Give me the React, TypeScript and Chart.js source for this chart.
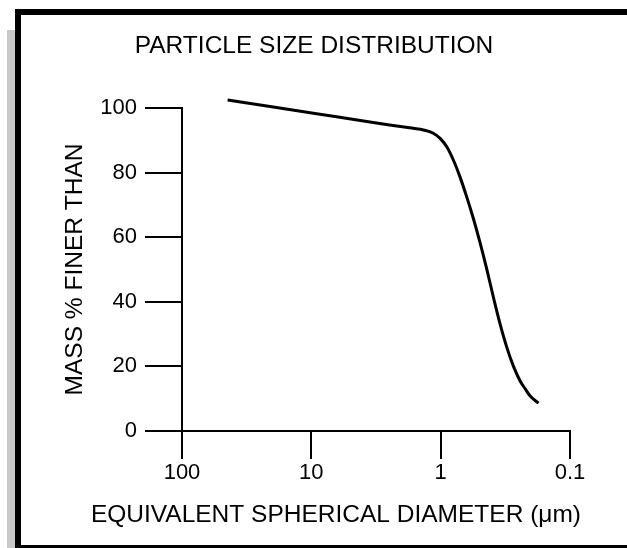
import React, { useEffect, useRef } from 'react';
import { Chart, registerables } from 'chart.js';

Chart.register(...registerables);

// ---- data ----
const chartTitle = 'PARTICLE SIZE DISTRIBUTION';
const xAxisTitle = 'EQUIVALENT SPHERICAL DIAMETER (μm)';
const yAxisTitle = 'MASS % FINER THAN';
const xTickValues = [100, 10, 1, 0.1];
const xTickLabels = ['100', '10', '1', '0.1'];
const yTickValues = [0, 20, 40, 60, 80, 100];
const diameters = [
  44.4, 22.1, 9.64, 3.73, 1.63, 1.36, 1.14, 1.01, 0.897, 0.798, 0.708, 0.628, 0.558, 0.496,
  0.44, 0.391, 0.347, 0.308, 0.274, 0.243, 0.2225, 0.204, 0.175,
];
const massFiner = [
  102.5, 100.6, 98.4, 95.8, 93.7, 93.2, 92.2, 90.6, 88.0, 83.9, 78.6, 72.4, 65.7, 58.3,
  50.1, 41.4, 33.1, 25.9, 20.1, 15.5, 13.1, 10.9, 8.6,
];

const FONT = "'Liberation Sans', Arial, Helvetica, sans-serif";
const TITLE_FS = 24.5;
const TICK_FS = 22;

export default function App() {
  const ref = useRef<HTMLCanvasElement | null>(null);

  useEffect(() => {
    if (!ref.current) return;
    const chart = new Chart(ref.current, {
      type: 'line',
      data: {
        datasets: [
          {
            data: diameters.map((d, i) => ({ x: d, y: massFiner[i] })),
            borderColor: '#000',
            borderWidth: 3,
            pointRadius: 0,
            cubicInterpolationMode: 'monotone',
            fill: false,
            clip: false as any,
          },
        ],
      },
      options: {
        responsive: false,
        animation: false,
        events: [],
        layout: { padding: { left: 47, right: 46, top: 0, bottom: 0 } },
        plugins: {
          legend: { display: false },
          tooltip: { enabled: false },
          title: {
            display: true,
            text: chartTitle,
            position: 'top',
            align: 'center',
            color: '#000',
            font: { family: FONT, size: TITLE_FS, weight: 'normal', lineHeight: 1.2 },
            padding: { top: 31.3, bottom: 47.3 },
          },
          subtitle: {
            display: true,
            text: xAxisTitle,
            position: 'bottom',
            align: 'end',
            color: '#000',
            font: { family: FONT, size: TITLE_FS, weight: 'normal', lineHeight: 1.2 },
            padding: { top: 0, bottom: 18.3 },
          },
        },
        scales: {
          x: {
            type: 'logarithmic',
            min: 0.1,
            max: 100,
            reverse: true,
            afterBuildTicks: (s: any) => {
              s.ticks = xTickValues.map((v) => ({ value: v }));
            },
            afterFit: (s: any) => {
              s.height = 69.3;
            },
            grid: {
              display: true,
              drawOnChartArea: false,
              drawTicks: true,
              tickLength: 28,
              tickWidth: 2,
              tickColor: '#000',
              color: '#000',
              lineWidth: 2,
            },
            border: { display: true, color: '#000', width: 2 },
            ticks: {
              autoSkip: false,
              maxRotation: 0,
              padding: 1,
              color: '#000',
              font: { family: FONT, size: TICK_FS },
              callback: (v: any) => {
                const i = xTickValues.indexOf(Number(v));
                return i >= 0 ? xTickLabels[i] : '';
              },
            },
          },
          y: {
            type: 'linear',
            min: 0,
            max: 100,
            afterBuildTicks: (s: any) => {
              s.ticks = yTickValues.map((v) => ({ value: v }));
            },
            afterFit: (s: any) => {
              s.width = 135;
            },
            grid: {
              display: true,
              drawOnChartArea: false,
              drawTicks: true,
              tickLength: 37,
              tickWidth: 2,
              tickColor: '#000',
              color: '#000',
              lineWidth: 2,
            },
            border: { display: true, color: '#000', width: 2 },
            ticks: {
              padding: 8,
              color: '#000',
              font: { family: FONT, size: TICK_FS },
            },
            title: {
              display: true,
              text: yAxisTitle,
              color: '#000',
              font: { family: FONT, size: TITLE_FS, lineHeight: 1.2 },
              padding: { top: 13.3, bottom: 0 },
            },
          },
          y2: {
            type: 'linear',
            position: 'right',
            display: true,
            grid: { display: false },
            border: { display: false },
            ticks: { display: false },
            afterFit: (s: any) => {
              s.width = 11;
            },
          },
        },
      } as any,
    });
    return () => chart.destroy();
  }, []);

  return (
    <div
      style={{
        position: 'absolute',
        left: 0,
        top: 0,
        width: 627,
        height: 548,
        overflow: 'hidden',
        background: '#fff',
      }}
    >
      <div style={{ position: 'absolute', left: 7, top: 30, width: 8, height: 518, background: '#c8c8c8' }} />
      <div
        style={{
          position: 'absolute',
          left: 15,
          top: 9,
          width: 700,
          height: 540,
          boxSizing: 'border-box',
          borderTop: '6px solid #000',
          borderLeft: '6px solid #000',
          borderBottom: '4px solid #000',
        }}
      />
      <canvas
        ref={ref}
        width={627}
        height={548}
        style={{ position: 'absolute', left: 0, top: 0, width: 627, height: 548 }}
      />
    </div>
  );
}
